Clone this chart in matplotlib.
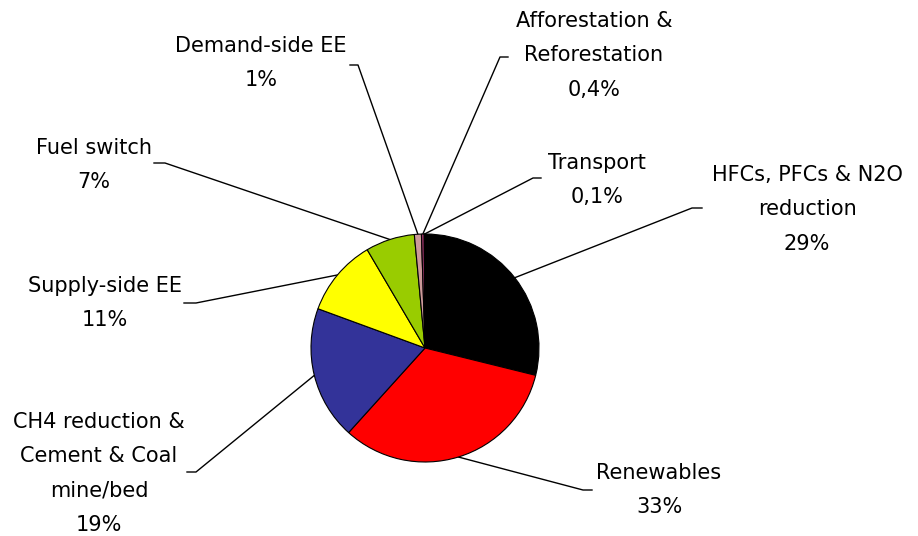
import numpy as np
import matplotlib
matplotlib.use("Agg")
import matplotlib.pyplot as plt

categories = ["HFCs, PFCs & N2O\nreduction", "Renewables",
              "CH4 reduction &\nCement & Coal\nmine/bed", "Supply-side EE",
              "Fuel switch", "Demand-side EE", "Afforestation &\nReforestation",
              "Transport"]
values = [29, 33, 19, 11, 7, 1, 0.4, 0.1]
pct_labels = ["29%", "33%", "19%", "11%", "7%", "1%", "0,4%", "0,1%"]
colors = ["#000000", "#FF0000", "#333399", "#FFFF00", "#99CC00", "#CC9999",
          "#993366", "#FFFFCC"]

W, H = 918, 536
fig = plt.figure(figsize=(W / 100, H / 100), dpi=100)
ax = fig.add_axes([0, 0, 1, 1])

cx, cy, r = 425, H - 348, 114
wedges, _ = ax.pie(values, colors=colors, startangle=90, counterclock=False,
                   center=(cx, cy), radius=r, frame=True,
                   wedgeprops=dict(edgecolor="black", linewidth=0.8))
ax.set_xlim(0, W)
ax.set_ylim(0, H)
ax.set_aspect("equal")
ax.axis("off")

# label layout in image px: (text center x, text top y, leader stub x0, stub x1, stub y)
layout = [
    (807, 165, 702, 692, 208),
    (659, 463, 592, 583, 490),
    (99, 412, 187, 196, 472),
    (105, 276, 184, 196, 303),
    (94, 138, 154, 165, 163),
    (261, 36, 350, 358, 65),
    (594, 11, 508, 500, 57),
    (597, 153, 541, 533, 178),
]

fs = 15
for w, cat, pct, (tx, ty, sx0, sx1, sy) in zip(wedges, categories, pct_labels, layout):
    ang = np.deg2rad((w.theta1 + w.theta2) / 2)
    ex = cx + r * np.cos(ang)
    ey = cy + r * np.sin(ang)
    ax.plot([sx0, sx1, ex], [H - sy, H - sy, ey], color="black", lw=1.0, zorder=0)
    ax.text(tx, H - ty, cat + "\n" + pct, ha="center", va="top",
            fontsize=fs, linespacing=1.9, family="DejaVu Sans")

fig.savefig("out.png", dpi=100, facecolor="white")
